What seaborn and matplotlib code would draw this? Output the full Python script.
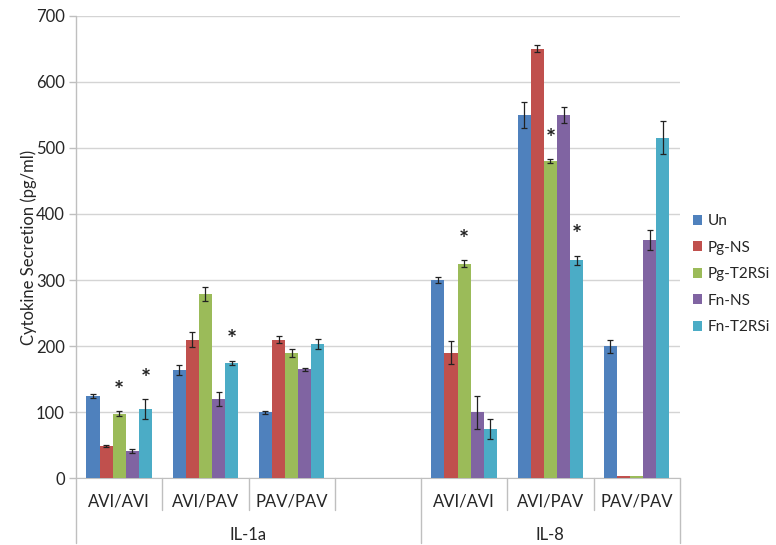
import numpy as np
import pandas as pd
import seaborn as sns
import matplotlib.pyplot as plt
import matplotlib.transforms as mtransforms

# Categories (one empty slot between the two cytokines)
groups = ["IL-1a", "IL-8"]
pairs = ["AVI/AVI", "AVI/PAV", "PAV/PAV"]
series = ["Un", "Pg-NS", "Pg-T2RSi", "Fn-NS", "Fn-T2RSi"]
palette = ["#4F81BD", "#C0504D", "#9BBB59", "#8064A2", "#4BACC6"]

# values per series, order: IL-1a AVI/AVI, AVI/PAV, PAV/PAV, IL-8 AVI/AVI, AVI/PAV, PAV/PAV
un = [125, 164, 100, 300, 550, 200]
pg_ns = [49, 210, 210, 190, 650, 4]
pg_t2rsi = [98, 279, 189, 325, 480, 4]
fn_ns = [42, 120, 165, 100, 550, 360]
fn_t2rsi = [105, 175, 203, 75, 330, 515]

un_err = [3, 8, 2, 5, 20, 10]
pg_ns_err = [2, 11, 6, 17, 5, 0]
pg_t2rsi_err = [4, 11, 6, 5, 3, 0]
fn_ns_err = [3, 10, 2, 25, 12, 15]
fn_t2rsi_err = [15, 3, 8, 15, 7, 25]

# significant bars (category index in the 6 above, series)
stars = [(0, "Pg-T2RSi"), (0, "Fn-T2RSi"), (1, "Fn-T2RSi"),
         (3, "Pg-T2RSi"), (4, "Pg-T2RSi"), (4, "Fn-T2RSi")]

keys = [g + " " + p for g in groups for p in pairs]
order = keys[:3] + ["gap"] + keys[3:]

values = [un, pg_ns, pg_t2rsi, fn_ns, fn_t2rsi]
errors = [un_err, pg_ns_err, pg_t2rsi_err, fn_ns_err, fn_t2rsi_err]

rows = []
for s, vals, errs in zip(series, values, errors):
    for k, v, e in zip(keys, vals, errs):
        rows.append({"cat": k, "series": s, "value": v, "err": e})
df = pd.DataFrame(rows)

sns.set_style("white")
plt.rcParams["font.family"] = ["Lato", "DejaVu Sans"]
FS = 12
TXT = "#262626"

fig = plt.figure(figsize=(7.76, 5.45), dpi=100)
ax = fig.add_axes([0.098, 0.1224, 0.778, 0.8488])

sns.barplot(data=df, x="cat", y="value", hue="series", order=order,
            hue_order=series, palette=palette, width=0.76, errorbar=None,
            saturation=1, ax=ax, legend=True, linewidth=0, zorder=3)

# error bars and stars
lookup = {(r.cat, r.series): (r.value, r.err) for r in df.itertuples()}
for s, cont in zip(series, ax.containers):
    for bar in cont:
        xc = bar.get_x() + bar.get_width() / 2
        cat = order[int(round(xc))]
        if (cat, s) not in lookup:
            continue
        v, e = lookup[(cat, s)]
        if e > 0:
            ax.errorbar(xc, v, yerr=e, fmt="none", ecolor="#222222",
                        elinewidth=0.9, capsize=2.2, capthick=0.9, zorder=4)
        if (keys.index(cat), s) in stars:
            ax.text(xc, v + e + 30, "*", ha="center", va="center",
                    fontsize=17, fontweight="bold", color="#222222", zorder=5)

ax.set_ylim(0, 700)
ax.set_xlim(-0.5, len(order) - 0.5)
ax.set_yticks(np.arange(0, 701, 100))
ax.yaxis.grid(True, color="#d4d4d4", linewidth=1)
ax.set_axisbelow(True)
ax.tick_params(axis="y", labelsize=FS, labelcolor=TXT, length=5,
               color="#bfbfbf", width=1, direction="out", left=True, pad=3)
ax.set_xticks([])
ax.set_xlabel("")
ax.set_ylabel("Cytokine Secretion (pg/ml)", fontsize=FS, color=TXT,
              labelpad=-1)
for sp in ax.spines.values():
    sp.set_visible(False)
ax.spines["bottom"].set_visible(True)
ax.spines["bottom"].set_color("#bfbfbf")

# multi-level category axis
trans = mtransforms.blended_transform_factory(ax.transData, ax.transAxes)
line_kw = dict(color="#bfbfbf", linewidth=1, transform=trans, clip_on=False)
ax.plot([-0.5, -0.5], [-0.14, 1], **line_kw)
for b in [0.5, 1.5, 2.5, 4.5, 5.5]:
    ax.plot([b, b], [0, -0.069], **line_kw)
for b in [3.5, 6.5]:
    ax.plot([b, b], [0, -0.14], **line_kw)
for i, cat in enumerate(order):
    if cat == "gap":
        continue
    ax.text(i, -0.05, cat.split(" ")[1], transform=trans, ha="center",
            va="center", fontsize=FS, color=TXT)
ax.text(1.5, -0.1225, groups[0], transform=trans, ha="center", va="center",
        fontsize=FS, color=TXT)
ax.text(5.0, -0.1225, groups[1], transform=trans, ha="center", va="center",
        fontsize=FS, color=TXT)

handles, labels = ax.get_legend_handles_labels()
ax.legend(handles, labels, loc="center left", bbox_to_anchor=(0.893, 0.497),
          bbox_transform=fig.transFigure, frameon=False, fontsize=11,
          handlelength=0.6, handleheight=0.6, handletextpad=0.35,
          borderpad=0, borderaxespad=0, labelspacing=0.82, labelcolor=TXT)

fig.savefig("out.png", dpi=100)
